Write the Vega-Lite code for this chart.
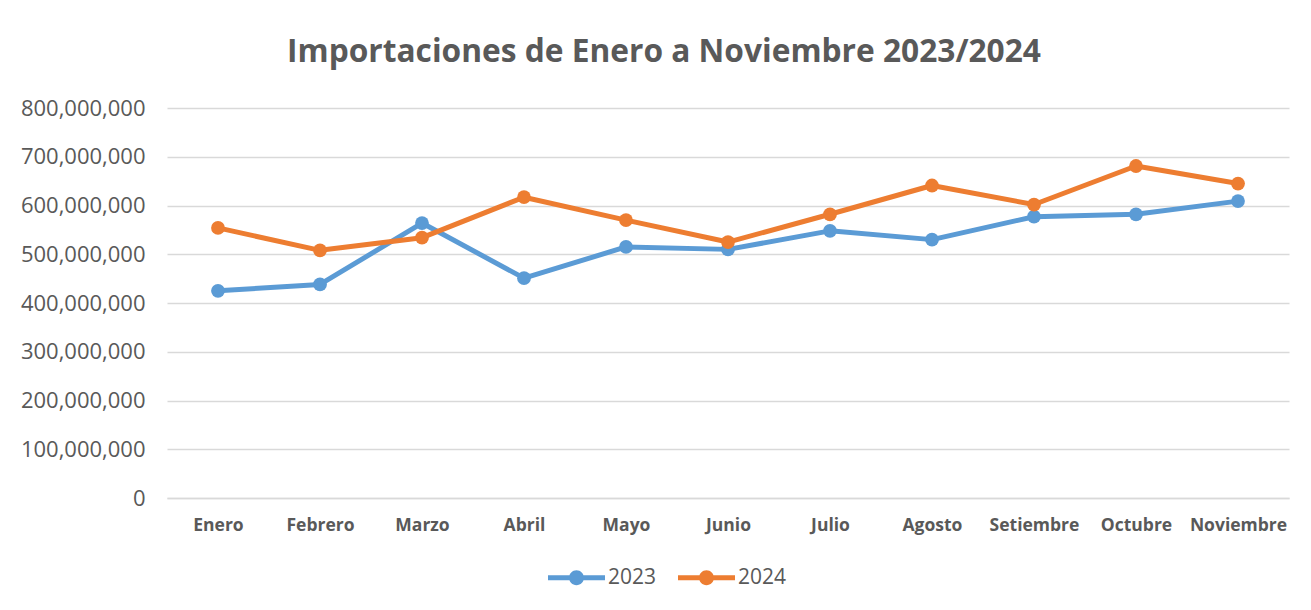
{
  "$schema": "https://vega.github.io/schema/vega-lite/v6.json",
  "autosize": "none",
  "width": 1122,
  "height": 390,
  "padding": {"left": 167, "top": 108, "right": 22, "bottom": 112},
  "background": "white",
  "config": {
    "font": "Open Sans",
    "view": {"stroke": null}
  },
  "title": {
    "text": "Importaciones de Enero a Noviembre 2023/2024",
    "fontSize": 31.7,
    "fontWeight": "bold",
    "color": "#595959",
    "font": "Open Sans",
    "anchor": "middle",
    "dx": -64,
    "offset": 28
  },
  "data": {
    "values": [
      {"mes": "Enero", "anio": "2023", "valor": 425000000},
      {"mes": "Febrero", "anio": "2023", "valor": 438000000},
      {"mes": "Marzo", "anio": "2023", "valor": 564000000},
      {"mes": "Abril", "anio": "2023", "valor": 451000000},
      {"mes": "Mayo", "anio": "2023", "valor": 515000000},
      {"mes": "Junio", "anio": "2023", "valor": 510000000},
      {"mes": "Julio", "anio": "2023", "valor": 548000000},
      {"mes": "Agosto", "anio": "2023", "valor": 530000000},
      {"mes": "Setiembre", "anio": "2023", "valor": 577000000},
      {"mes": "Octubre", "anio": "2023", "valor": 582000000},
      {"mes": "Noviembre", "anio": "2023", "valor": 609000000},
      {"mes": "Enero", "anio": "2024", "valor": 554000000},
      {"mes": "Febrero", "anio": "2024", "valor": 508000000},
      {"mes": "Marzo", "anio": "2024", "valor": 534000000},
      {"mes": "Abril", "anio": "2024", "valor": 617000000},
      {"mes": "Mayo", "anio": "2024", "valor": 570000000},
      {"mes": "Junio", "anio": "2024", "valor": 525000000},
      {"mes": "Julio", "anio": "2024", "valor": 582000000},
      {"mes": "Agosto", "anio": "2024", "valor": 641000000},
      {"mes": "Setiembre", "anio": "2024", "valor": 602000000},
      {"mes": "Octubre", "anio": "2024", "valor": 681000000},
      {"mes": "Noviembre", "anio": "2024", "valor": 645000000}
    ]
  },
  "mark": {
    "type": "line",
    "strokeWidth": 5,
    "strokeJoin": "round",
    "strokeCap": "round",
    "point": {"filled": true, "size": 190, "opacity": 1}
  },
  "encoding": {
    "x": {
      "field": "mes",
      "type": "nominal",
      "sort": ["Enero", "Febrero", "Marzo", "Abril", "Mayo", "Junio", "Julio", "Agosto", "Setiembre", "Octubre", "Noviembre"],
      "scale": {"type": "point", "padding": 0.5},
      "axis": {
        "title": null,
        "labelAngle": 0,
        "labelFontSize": 17.5,
        "labelFontWeight": "bold",
        "labelColor": "#595959",
        "labelPadding": 18,
        "ticks": false,
        "grid": false,
        "domainColor": "#d9d9d9",
        "domainWidth": 1.5
      }
    },
    "y": {
      "field": "valor",
      "type": "quantitative",
      "scale": {"domain": [0, 800000000], "nice": false},
      "axis": {
        "title": null,
        "values": [0, 100000000, 200000000, 300000000, 400000000, 500000000, 600000000, 700000000, 800000000],
        "format": ",d",
        "labelFontSize": 22,
        "labelColor": "#595959",
        "labelPadding": 22,
        "ticks": false,
        "domain": false,
        "gridColor": "#d9d9d9",
        "gridWidth": 1.5
      }
    },
    "color": {
      "field": "anio",
      "type": "nominal",
      "scale": {"domain": ["2023", "2024"], "range": ["#5B9BD5", "#ED7D31"]},
      "legend": {
        "title": null,
        "orient": "none",
        "direction": "horizontal",
        "legendX": 381,
        "legendY": 441,
        "symbolType": "M-1,-0.09L1,-0.09L1,0.09L-1,0.09ZM0.26,0A0.26,0.26,0,1,1,-0.26,0A0.26,0.26,0,1,1,0.26,0Z",
        "symbolSize": 3249,
        "symbolStrokeWidth": 0,
        "labelFontSize": 21,
        "labelColor": "#595959",
        "labelOffset": 3,
        "columnPadding": 21,
        "encode": {
          "symbols": {
            "update": {
              "fill": {"scale": "color", "field": "value"},
              "stroke": {"value": "transparent"},
              "opacity": {"value": 1}
            }
          }
        }
      }
    }
  }
}
